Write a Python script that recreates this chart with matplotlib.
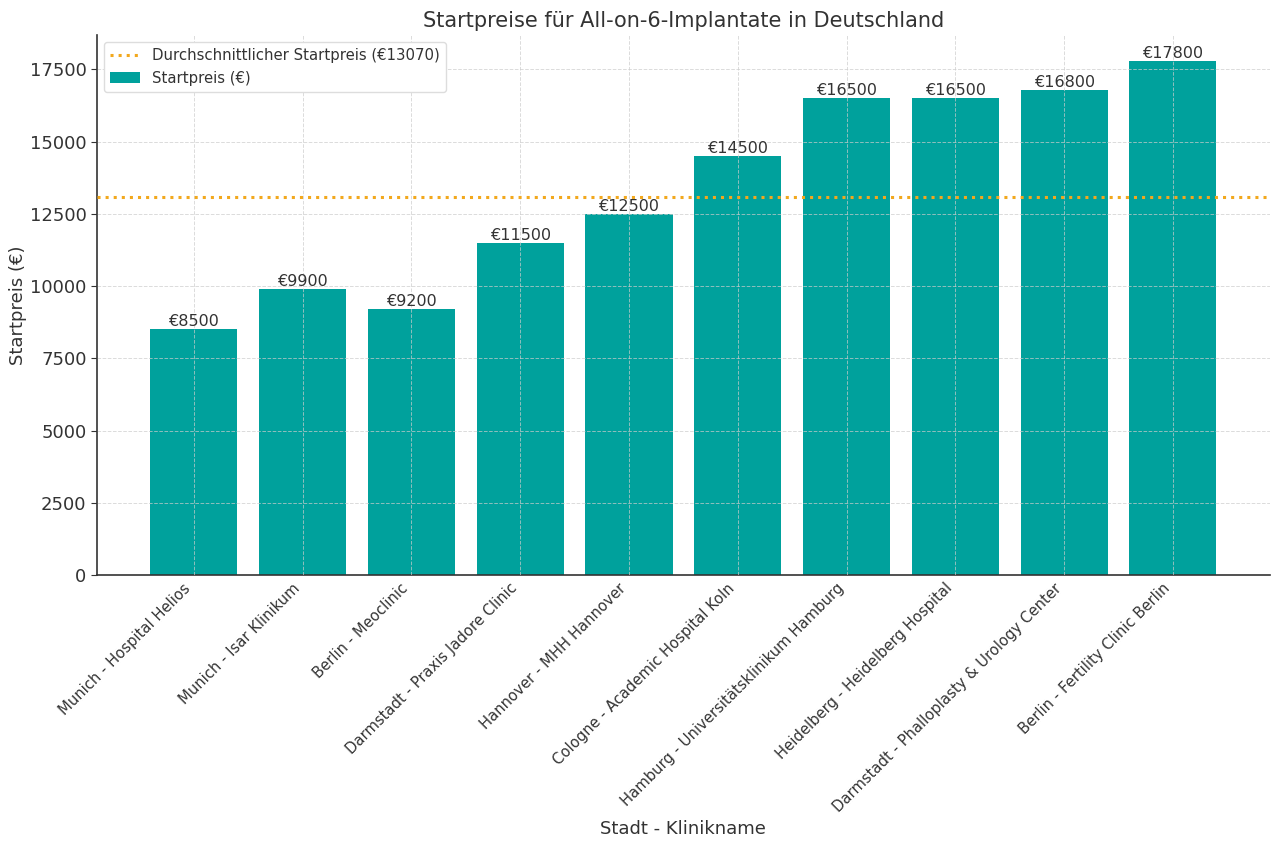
import matplotlib
matplotlib.use("Agg")
import matplotlib.pyplot as plt

clinics = [
    "Munich - Hospital Helios",
    "Munich - Isar Klinikum",
    "Berlin - Meoclinic",
    "Darmstadt - Praxis Jadore Clinic",
    "Hannover - MHH Hannover",
    "Cologne - Academic Hospital Koln",
    "Hamburg - Universitätsklinikum Hamburg",
    "Heidelberg - Heidelberg Hospital",
    "Darmstadt - Phalloplasty & Urology Center",
    "Berlin - Fertility Clinic Berlin",
]
prices = [8500, 9900, 9200, 11500, 12500, 14500, 16500, 16500, 16800, 17800]
average_price = 13070

TEXT = "#333333"
plt.rcParams["font.family"] = ["DejaVu Sans"]
plt.rcParams["text.color"] = TEXT
plt.rcParams["axes.labelcolor"] = TEXT
plt.rcParams["xtick.color"] = TEXT
plt.rcParams["ytick.color"] = TEXT

fig = plt.figure(figsize=(12.8, 8.5), dpi=100)
ax = fig.add_axes([0.0758, 0.3235, 0.9162, 0.6353])

x = list(range(len(clinics)))
bars = ax.bar(x, prices, width=0.8, color="#00a19c", label="Startpreis (€)", zorder=1)
line = ax.axhline(average_price, color="#f2a81d", linestyle=":", linewidth=2.2,
                  label=f"Durchschnittlicher Startpreis (€{average_price})", zorder=3)

ax.bar_label(bars, labels=[f"€{p}" for p in prices], padding=0, fontsize=11.5, color=TEXT)

ax.set_ylim(0, max(prices) * 1.05)
ax.set_xlim(-0.89, len(clinics) - 1 + 0.89)
ax.set_xticks(x)
ax.set_xticklabels(clinics, rotation=45, ha="right", fontsize=10.6)
ax.tick_params(axis="x", length=0, pad=4)
ax.tick_params(axis="y", labelsize=13, length=4, color=TEXT)

ax.grid(True, color="#cccccc", linestyle="--", linewidth=0.7, alpha=0.7, zorder=2)
ax.set_axisbelow(False)

for s in ["top", "right"]:
    ax.spines[s].set_visible(False)
for s in ["left", "bottom"]:
    ax.spines[s].set_color(TEXT)
    ax.spines[s].set_linewidth(1.2)

ax.set_title("Startpreise für All-on-6-Implantate in Deutschland", fontsize=15, color=TEXT, pad=6)
ax.set_xlabel("Stadt - Klinikname", fontsize=13, labelpad=4)
ax.set_ylabel("Startpreis (€)", fontsize=13, labelpad=2)

leg = ax.legend(handles=[line, bars], loc="upper left", fontsize=10.7, frameon=True,
                edgecolor="#dddddd", framealpha=1.0)
for t in leg.get_texts():
    t.set_color(TEXT)

fig.savefig("out.png", dpi=100)
